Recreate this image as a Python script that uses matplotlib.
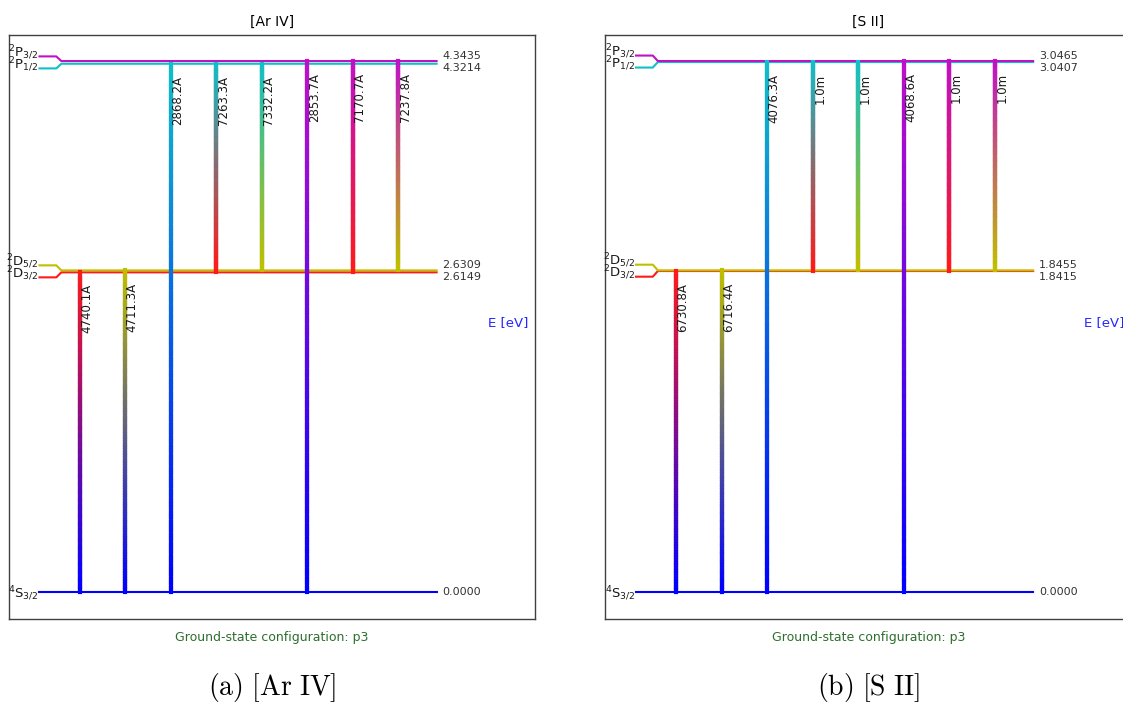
import matplotlib
matplotlib.use('Agg')
import matplotlib.pyplot as plt
import numpy as np
from matplotlib.collections import LineCollection
from matplotlib.transforms import offset_copy
from matplotlib.colors import to_rgb

# ---------------- data ----------------
ion_titles = ['[Ar IV]', '[S II]']
captions = [r'$\mathrm{(a)\ [Ar\ IV]}$', r'$\mathrm{(b)\ [S\ II]}$']
config_text = 'Ground-state configuration: p3'

level_labels = [r'$^{4}\mathrm{S}_{3/2}$', r'$^{2}\mathrm{D}_{3/2}$', r'$^{2}\mathrm{D}_{5/2}$',
                r'$^{2}\mathrm{P}_{1/2}$', r'$^{2}\mathrm{P}_{3/2}$']
level_colors = ['#0000ff', '#ff1a1a', '#bfbf00', '#10bfc8', '#c010c8']

arIV_energies = [0.0, 2.6149, 2.6309, 4.3214, 4.3435]
sII_energies = [0.0, 1.8415, 1.8455, 3.0407, 3.0465]

# transitions (upper level index, lower level index)
trans_upper = [1, 2, 3, 3, 3, 4, 4, 4]
trans_lower = [0, 0, 0, 1, 2, 0, 1, 2]
arIV_wave_labels = ['4740.1A', '4711.3A', '2868.2A', '7263.3A', '7332.2A', '2853.7A', '7170.7A', '7237.8A']
sII_wave_labels = ['6730.8A', '6716.4A', '4076.3A', '1.0m', '1.0m', '4068.6A', '1.0m', '1.0m']

energies_all = [arIV_energies, sII_energies]
waves_all = [arIV_wave_labels, sII_wave_labels]

# ---------------- layout ----------------
W, H = 1123, 704
fig = plt.figure(figsize=(W / 100, H / 100), dpi=100)

ax_lefts = [8.5, 605]
ax_top, ax_w, ax_h = 34.5, 526.5, 584.0

def rect(l, t, w, h):
    return [l / W, 1 - (t + h) / H, w / W, h / H]

XMIN, XMAX = -1.56, 10.0
x_lab0, x_bend0, x_bend1, x_end = -0.88, -0.51, -0.40, 7.84

for p in range(2):
    E = energies_all[p]
    waves = waves_all[p]
    Emax = max(E)
    ax = fig.add_axes(rect(ax_lefts[p], ax_top, ax_w, ax_h))
    ax.set_xlim(XMIN, XMAX)
    ax.set_ylim(-0.05 * Emax, 1.05 * Emax)
    ax.set_xticks([])
    ax.set_yticks([])
    for s in ax.spines.values():
        s.set_color('0.25')
        s.set_linewidth(1.0)
    px_per_eV = ax_h / (1.1 * Emax)
    px_per_x = ax_w / (XMAX - XMIN)

    # ground level (single)
    ax.plot([x_lab0, x_end], [E[0], E[0]], color=level_colors[0], lw=1.5, zorder=2)
    ax.text(x_lab0 - 0.02, E[0] + 0.5 / px_per_eV, level_labels[0], ha='right',
            va='center_baseline', fontsize=9.5, color='0.1')
    ax.text(x_end + 6 / px_per_x, E[0], f'{E[0]:.4f}', ha='left', va='center', fontsize=8, color='0.2')

    # split doublets
    for lo, hi in [(1, 2), (3, 4)]:
        mean = 0.5 * (E[lo] + E[hi])
        for idx, sign in [(lo, -1), (hi, 1)]:
            ylab = mean + sign * 6.0 / px_per_eV
            ax.plot([x_lab0, x_bend0, x_bend1, x_end], [ylab, ylab, E[idx], E[idx]],
                    color=level_colors[idx], lw=1.5, zorder=2, solid_joinstyle='round')
            ax.text(x_lab0 - 0.02, ylab - 0.5 / px_per_eV, level_labels[idx], ha='right',
                    va='baseline', fontsize=9.5, color='0.1')
            ax.text(x_end + 6 / px_per_x, mean + sign * 6 / px_per_eV, f'{E[idx]:.4f}',
                    ha='left', va='center', fontsize=8, color='0.2')

    # transitions with colour gradients
    n = 120
    for i, (u, l) in enumerate(zip(trans_upper, trans_lower)):
        ys = np.linspace(E[u], E[l], n + 1)
        segs = [[(i, ys[k]), (i, ys[k + 1])] for k in range(n)]
        c0 = np.array(to_rgb(level_colors[u]))
        c1 = np.array(to_rgb(level_colors[l]))
        t = np.linspace(0, 1, n)[:, None]
        cols = c0 * (1 - t) + c1 * t
        lc = LineCollection(segs, colors=cols, linewidths=3.0, capstyle='projecting', zorder=3)
        ax.add_collection(lc)
        tr = offset_copy(ax.transData, fig=fig, x=0.5, y=-12, units='dots')
        ax.text(i, E[u], waves[i], rotation=90, ha='left', va='top', fontsize=8.5,
                color='0.1', transform=tr, zorder=4)

    ax.text(0.987, 0.506, 'E [eV]', transform=ax.transAxes, ha='right', va='center',
            color='#2525ff', fontsize=9.5)
    ax.set_title(ion_titles[p], fontsize=10, pad=6)

    cx = (ax_lefts[p] + ax_w / 2) / W
    fig.text(cx, 1 - 638 / H, config_text, color='#2e6e2e', fontsize=9, ha='center', va='center')
    fig.text(cx, 1 - 687 / H, captions[p], math_fontfamily='cm', fontsize=20,
             ha='center', va='center')

fig.savefig('out.png', dpi=100)
